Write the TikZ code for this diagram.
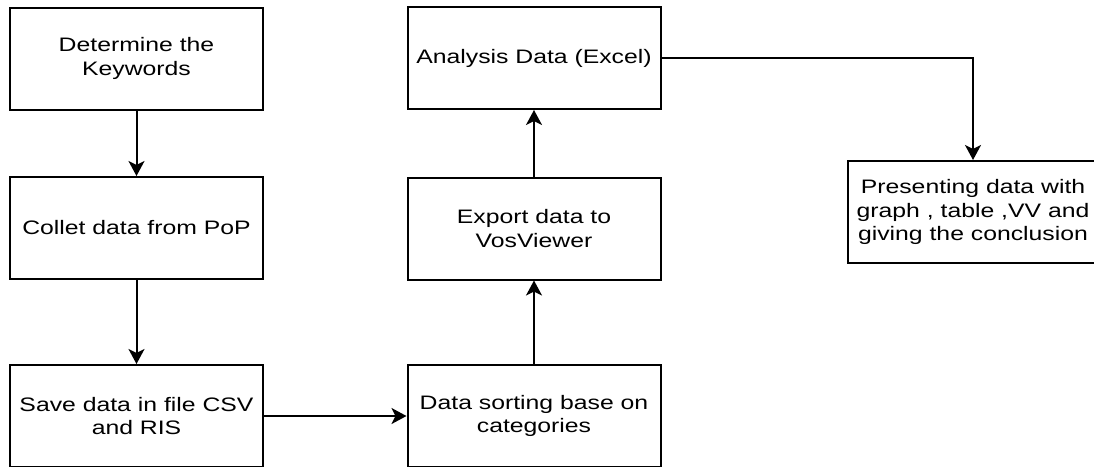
\documentclass[tikz,border=0pt]{standalone}
\usepackage{fontspec}
\setmainfont{Liberation Sans}[FakeStretch=1.27]
\usetikzlibrary{arrows.meta}

\tikzset{
  stepbox/.style={draw=black, line width=2pt, fill=white, align=center,
    minimum width=253pt, minimum height=102pt, inner sep=2pt,
    font=\fontsize{19.5}{23.5}\selectfont},
  flow/.style={draw=black, line width=2pt,
    -{Stealth[length=15pt,width=16pt,inset=4pt]}}
}

\begin{document}
\begin{tikzpicture}[x=1pt,y=-1pt]
  \useasboundingbox (0,0) rectangle (1094,466);
  \fill[white] (0,0) rectangle (1094,466);
  \clip (0,0) rectangle (1094,466);

  % left column
  \node[stepbox] (kw)   at (136.5,58.5) {Determine the\\Keywords};
  \node[stepbox] (pop)  at (136.5,228)  {Collet data from PoP};
  \node[stepbox] (save) at (136.5,416)  {Save data in file CSV\\and RIS};

  % middle column
  \node[stepbox] (sort)   at (534,416)  {Data sorting base on\\categories};
  \node[stepbox] (export) at (534,228.5) {Export data to\\VosViewer};
  \node[stepbox] (excel)  at (534,58)   {Analysis Data (Excel)};

  % result
  \node[stepbox, minimum width=250pt] (present) at (973,212)
    {Presenting data with\\graph , table ,VV and\\giving the conclusion};

  % connectors
  \draw[flow] (kw) -- (pop);
  \draw[flow] (pop) -- (save);
  \draw[flow] (save) -- (sort);
  \draw[flow] (sort) -- (export);
  \draw[flow] (export) -- (excel);
  \draw[flow] (excel.east) -| (present.north);
\end{tikzpicture}
\end{document}
